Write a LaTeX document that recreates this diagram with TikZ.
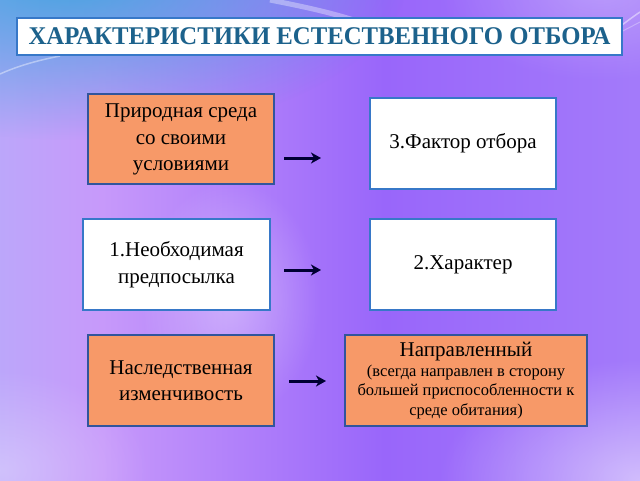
\documentclass[tikz,border=0pt]{standalone}
\usepackage{fontspec}
\setmainfont{Liberation Serif}
\newfontfamily\titlefont[FakeStretch=0.97]{Liberation Serif}
\usetikzlibrary{arrows.meta,fadings}
\definecolor{orangebox}{RGB}{247,153,104}
\definecolor{bordblue}{RGB}{50,85,155}
\definecolor{wbord}{RGB}{55,120,200}
\definecolor{titletext}{RGB}{28,98,140}
\definecolor{topblue}{RGB}{50,165,220}
\pgfdeclarehorizontalshading{bgshade}{100bp}{
 rgb(0bp)=(0.58,0.80,0.98);
 rgb(18bp)=(0.70,0.70,0.98);
 rgb(33bp)=(0.78,0.60,0.98);
 rgb(55bp)=(0.60,0.40,0.98);
 rgb(75bp)=(0.64,0.48,0.98);
 rgb(100bp)=(0.80,0.76,0.98)}
\tikzfading[name=radfade, inner color=transparent!0, outer color=transparent!100]
\tikzset{
  orbox/.style={draw=bordblue,line width=1.4pt,fill=orangebox,align=center,
    minimum width=186pt,minimum height=90pt,inner sep=2pt,font=\fontsize{21}{26.5}\selectfont},
  whbox/.style={draw=wbord,line width=1.6pt,fill=white,align=center,
    minimum width=186pt,minimum height=91pt,inner sep=2pt,font=\fontsize{21}{26.5}\selectfont},
  arr/.style={-{Stealth[length=10pt,width=11pt,inset=3pt]},line width=3pt,black!80!blue}
}
\begin{document}
\begin{tikzpicture}[x=1pt,y=-1pt]
\useasboundingbox (0,0) rectangle (640,480);
% background
\shade[shading=bgshade] (0,0) rectangle (640,480);
\fill[topblue,path fading=radfade,fill opacity=0.9] (70,-30) ellipse [x radius=340pt,y radius=170pt];
\fill[white,path fading=radfade,fill opacity=0.25] (600,-10) ellipse [x radius=160pt,y radius=90pt];
\fill[white,path fading=radfade,fill opacity=0.5] (640,480) ellipse [x radius=200pt,y radius=120pt];
\fill[white,path fading=radfade,fill opacity=0.3] (0,470) ellipse [x radius=150pt,y radius=100pt];
\fill[white,path fading=radfade,fill opacity=0.35] (230,300) ellipse [x radius=90pt,y radius=120pt];
\draw[white,opacity=0.35,line width=5pt] (270,0) .. controls (300,6) and (330,12) .. (360,22);
\draw[white,opacity=0.45,line width=1.5pt] (590,48) .. controls (610,35) and (625,22) .. (640,12);
\draw[white,opacity=0.3,line width=1pt] (580,52) .. controls (605,40) and (625,30) .. (640,22);
\draw[white,opacity=0.4,line width=1.5pt] (0,74) .. controls (20,65) and (40,60) .. (60,56);
% title
\node[draw=wbord,line width=1.6pt,fill=white,minimum width=605pt,minimum height=37pt,
  font=\titlefont\fontsize{25.5}{28}\selectfont\bfseries,text=titletext,inner sep=0pt] (title) at (319.5,36.5)
  {ХАРАКТЕРИСТИКИ ЕСТЕСТВЕННОГО ОТБОРА};
% boxes
\node[orbox] (env) at (181,139) {\raisebox{-3pt}{\begin{tabular}{@{}c@{}}Природная среда\\со своими\\условиями\end{tabular}}};
\node[whbox] (fac) at (463,143.5) {3.Фактор отбора};
\node[whbox,minimum width=187pt] (nec) at (176.5,264.5) {1.Необходимая\\предпосылка};
\node[whbox] (char) at (463,264.5) {2.Характер};
\node[orbox,minimum height=91pt] (her) at (181,380.5) {Наследственная\\изменчивость};
\node[orbox,minimum width=242pt,minimum height=91pt,font=\fontsize{16.5}{19.5}\selectfont] (dir) at (466,380.5)
  {{\fontsize{21}{21}\selectfont Направленный}\\(всегда направлен в сторону\\большей приспособленности к\\среде обитания)};
% arrows
\coordinate (a1s) at (284,158); \coordinate (a1e) at (321,158);
\coordinate (a2s) at (284,270); \coordinate (a2e) at (321,270);
\coordinate (a3s) at (289,381); \coordinate (a3e) at (326,381);
\draw[arr] (a1s) -- (a1e);
\draw[arr] (a2s) -- (a2e);
\draw[arr] (a3s) -- (a3e);
\end{tikzpicture}
\end{document}
